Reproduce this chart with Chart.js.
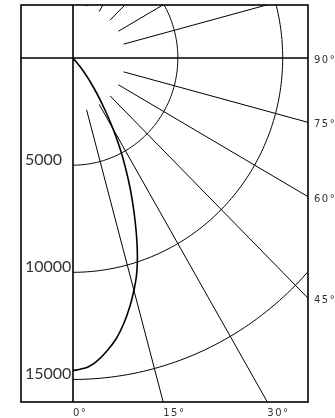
<!DOCTYPE html>
<html>
<head>
<meta charset="utf-8">
<script src="https://cdn.jsdelivr.net/npm/chart.js@4/dist/chart.umd.min.js"></script>
<style>
  html, body { margin: 0; padding: 0; background: #fff; }
  canvas { display: block; }
</style>
</head>
<body>
<canvas id="c" width="335" height="418"></canvas>
<script>
// ---- data ----
const rangeTicks = [5000, 10000, 15000];            // radial circles (labelled on the left)
const angleLabelsRight = [45, 60, 75, 90];          // angle labels on the right edge (deg)
const angleLabelsBottom = [0, 15, 30];              // angle labels on the bottom edge (deg)
const spokeAngles = [15, 30, 45, 60, 75, 105, 120, 135, 150, 165]; // radial grid lines (deg)
const spokeInnerRadius = 2500;
// curve (horizontal distance, depth)
const curveX = [0, 525, 1049, 1526, 1931, 2265, 2528, 2742, 2909, 3019, 3066, 3066, 3019, 2909, 2718, 2432, 2051, 1574, 1097, 715, 334, 0];
const curveY = [0, 653, 1493, 2426, 3360, 4293, 5226, 6159, 7186, 8166, 8959, 9612, 10219, 10826, 11572, 12365, 13111, 13718, 14185, 14418, 14525, 14582];

const xMin = -2480, xMax = 11207, yMin = -2473, yMax = 16052;

const gridPlugin = {
  id: 'polarGrid',
  beforeDatasetsDraw(chart) {
    const { ctx, chartArea: a, scales: { x, y } } = chart;
    const P = (dx, dy) => [x.getPixelForValue(dx), y.getPixelForValue(dy)];
    ctx.save();
    ctx.beginPath();
    ctx.rect(a.left, a.top, a.right - a.left, a.bottom - a.top);
    ctx.clip();
    ctx.strokeStyle = '#000';
    ctx.lineWidth = 1;
    // circles
    rangeTicks.forEach(R => {
      ctx.beginPath();
      for (let t = 0; t <= 180; t += 1) {
        const r = t * Math.PI / 180;
        const [px, py] = P(R * Math.sin(r), R * Math.cos(r));
        if (t === 0) ctx.moveTo(px, py); else ctx.lineTo(px, py);
      }
      ctx.stroke();
    });
    // spokes
    spokeAngles.forEach(deg => {
      const r = deg * Math.PI / 180;
      const R2 = 40000;
      const [x0, y0] = P(spokeInnerRadius * Math.sin(r), spokeInnerRadius * Math.cos(r));
      const [x1, y1] = P(R2 * Math.sin(r), R2 * Math.cos(r));
      ctx.beginPath();
      ctx.moveTo(x0, y0);
      ctx.lineTo(x1, y1);
      ctx.stroke();
    });
    // axes through the origin
    ctx.lineWidth = 1.6;
    const [ox, oy] = P(0, 0);
    ctx.beginPath();
    ctx.moveTo(a.left, oy); ctx.lineTo(a.right, oy);
    ctx.moveTo(ox, a.top); ctx.lineTo(ox, a.bottom);
    ctx.stroke();
    ctx.restore();
  },
  afterDraw(chart) {
    const { ctx, chartArea: a, scales: { x, y } } = chart;
    ctx.save();
    // frame
    ctx.strokeStyle = '#000';
    ctx.lineWidth = 1.6;
    ctx.strokeRect(a.left, a.top, a.right - a.left, a.bottom - a.top);
    // left range labels
    ctx.fillStyle = '#333';
    ctx.font = '16px Lato';
    ctx.textAlign = 'left';
    ctx.textBaseline = 'alphabetic';
    rangeTicks.forEach(R => {
      ctx.fillText(String(R), 25, y.getPixelForValue(R));
    });
    // angle labels
    ctx.font = '10px "DejaVu Sans"';
    try { ctx.letterSpacing = '1.5px'; } catch (e) {}
    ctx.textBaseline = 'middle';
    angleLabelsRight.forEach(deg => {
      const r = deg * Math.PI / 180;
      const R = xMax / Math.sin(r);
      const py = y.getPixelForValue(R * Math.cos(r));
      ctx.fillText(deg + '°', a.right + 6, py + 2.5);
    });
    angleLabelsBottom.forEach(deg => {
      const r = deg * Math.PI / 180;
      const R = yMax / Math.cos(r);
      const px = x.getPixelForValue(R * Math.sin(r));
      ctx.fillText(deg + '°', px, a.bottom + 11.5);
    });
    ctx.restore();
  }
};

new Chart(document.getElementById('c'), {
  type: 'scatter',
  data: {
    datasets: [{
      data: curveX.map((v, i) => ({ x: v, y: curveY[i] })),
      showLine: true,
      borderColor: '#000',
      borderWidth: 1.6,
      pointRadius: 0,
      tension: 0.4,
      fill: false
    }]
  },
  options: {
    responsive: false,
    animation: false,
    devicePixelRatio: 1,
    layout: { padding: { left: 21, right: 27, top: 5, bottom: 16 } },
    plugins: { legend: { display: false }, tooltip: { enabled: false } },
    scales: {
      x: { type: 'linear', min: xMin, max: xMax, display: false },
      y: { type: 'linear', min: yMin, max: yMax, reverse: true, display: false }
    }
  },
  plugins: [gridPlugin]
});
</script>
</body>
</html>
